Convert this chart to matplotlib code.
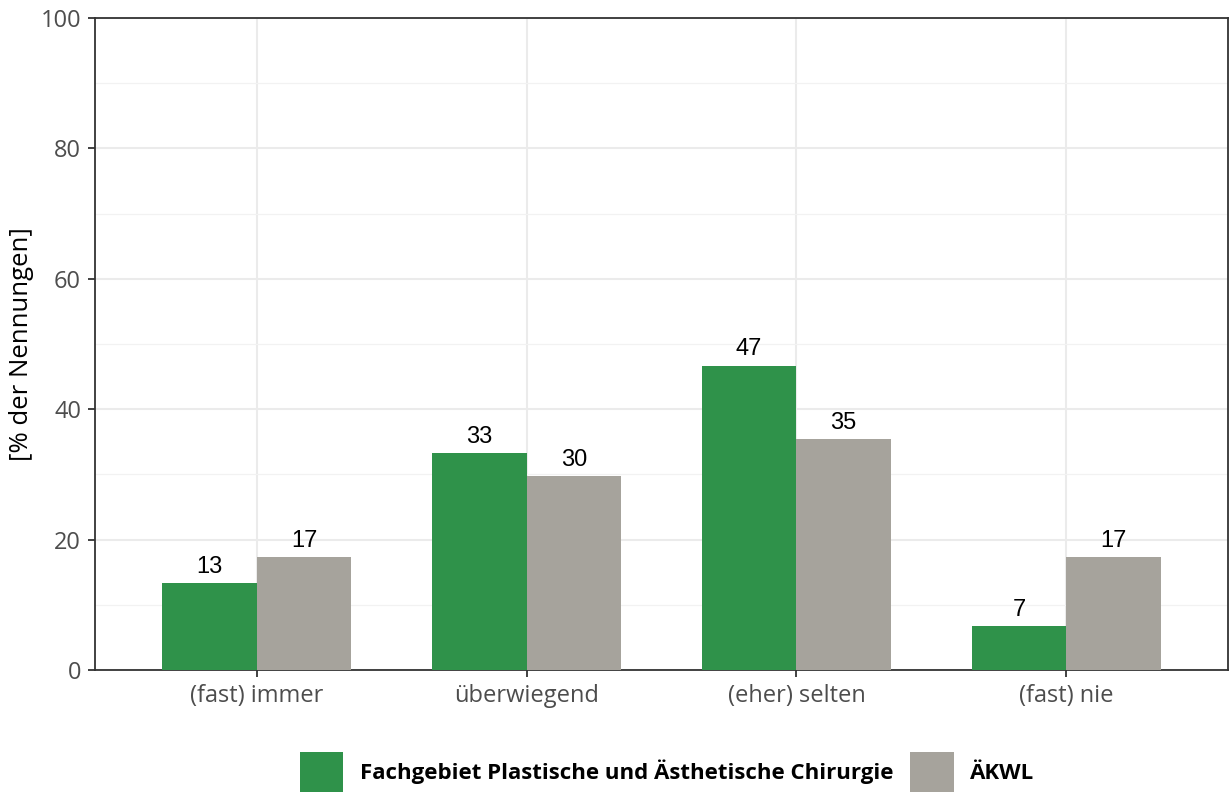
import numpy as np
import matplotlib.pyplot as plt
from matplotlib.patches import Patch

categories = ["(fast) immer", "überwiegend", "(eher) selten", "(fast) nie"]
fach = [13.3, 33.3, 46.7, 6.7]
aekwl = [17.3, 29.7, 35.4, 17.3]
series_names = ["Fachgebiet Plastische und Ästhetische Chirurgie", "ÄKWL"]

green = "#2F924A"
grey = "#A6A39C"

fig = plt.figure(figsize=(12.29, 7.92), dpi=100)
ax = fig.add_axes([95/1229, 1-670/792, (1228-95)/1229, (670-18)/792])

x = np.arange(len(categories))
w = 0.35
ax.bar(x - w/2, fach, w, color=green, zorder=3)
ax.bar(x + w/2, aekwl, w, color=grey, zorder=3)

for xi, v in zip(x - w/2, fach):
    ax.text(xi, v + 0.8, f"{v:.0f}", ha="center", va="bottom", fontsize=17, family="Liberation Sans")
for xi, v in zip(x + w/2, aekwl):
    ax.text(xi, v + 0.8, f"{v:.0f}", ha="center", va="bottom", fontsize=17, family="Liberation Sans")

ax.set_xlim(-0.6, 3.6)
ax.set_ylim(0, 100)
ax.set_yticks(np.arange(0, 101, 20))
ax.set_yticks(np.arange(10, 100, 20), minor=True)
ax.set_xticks(x)
ax.set_xticklabels(categories)
ax.grid(True, which="major", color="#EBEBEB", lw=1.5, zorder=0)
ax.grid(True, which="minor", axis="y", color="#F2F2F2", lw=0.9, zorder=0)
ax.tick_params(which="minor", length=0)
ax.tick_params(which="major", length=5, width=1.3, color="#333333",
               labelsize=17, labelcolor="#4D4D4D", pad=5)
for lab in ax.get_xticklabels() + ax.get_yticklabels():
    lab.set_family("Open Sans")
for s in ax.spines.values():
    s.set_color("#333333")
    s.set_linewidth(1.3)
ax.set_ylabel("[% der Nennungen]", fontsize=18.5, family="Open Sans", labelpad=5)

handles = [Patch(facecolor=green), Patch(facecolor=grey)]
fig.legend(handles, series_names, loc="upper left", bbox_to_anchor=(300/1229, 1-752/792),
           ncol=2, frameon=False, borderpad=0, borderaxespad=0,
           handlelength=1.95, handleheight=2.4,
           columnspacing=0.75, handletextpad=0.75,
           prop={"family": "Open Sans", "weight": "bold", "size": 16})

fig.savefig("out.png", dpi=100)
